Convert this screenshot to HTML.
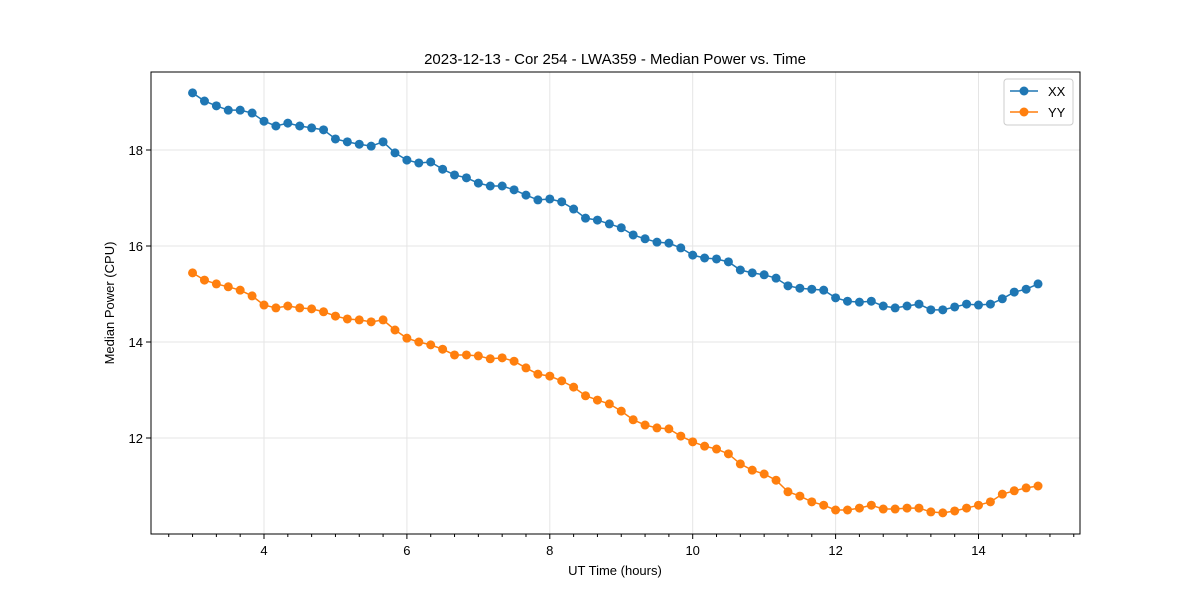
<!DOCTYPE html>
<html><head><meta charset="utf-8"><style>
html,body{margin:0;padding:0;background:#fff;}
svg text{font-family:"Liberation Sans","DejaVu Sans",sans-serif;fill:#000;}
</style></head><body>
<svg id="chart" width="1200" height="600" xmlns="http://www.w3.org/2000/svg">
<rect width="1200" height="600" fill="#fff"/>
<text x="615" y="64" font-size="15" text-anchor="middle">2023-12-13 - Cor 254 - LWA359 - Median Power vs. Time</text>
<g id="grid"></g>
<g id="axes"></g>
<g id="series"></g>
<rect x="151" y="72" width="929" height="462" fill="none" stroke="#000" stroke-width="1"/>
<text x="615" y="575" font-size="13" text-anchor="middle">UT Time (hours)</text>
<text transform="translate(114,303) rotate(-90)" font-size="13" text-anchor="middle">Median Power (CPU)</text>
<g>
<rect x="1004" y="79" width="69" height="46" rx="3" fill="#fff" stroke="#ccc"/>
<g><line x1="1010" y1="91" x2="1038" y2="91" stroke="#1f77b4" stroke-width="1.5"/><circle cx="1024" cy="91" r="4.5" fill="#1f77b4"/><text x="1048" y="96" font-size="13">XX</text></g>
<g><line x1="1010" y1="112" x2="1038" y2="112" stroke="#ff7f0e" stroke-width="1.5"/><circle cx="1024" cy="112" r="4.5" fill="#ff7f0e"/><text x="1048" y="117" font-size="13">YY</text></g>
</g>
</svg>
<script>
const xxValues=[19.19,19.02,18.92,18.83,18.83,18.77,18.60,18.50,18.56,18.50,
18.46,18.42,18.23,18.17,18.12,18.08,18.17,17.94,17.79,17.73,
17.75,17.60,17.48,17.42,17.31,17.25,17.25,17.17,17.06,16.96,
16.98,16.92,16.77,16.58,16.54,16.46,16.38,16.23,16.15,16.08,
16.06,15.96,15.81,15.75,15.73,15.67,15.50,15.44,15.40,15.33,
15.17,15.12,15.10,15.08,14.92,14.85,14.83,14.85,14.75,14.71,
14.75,14.79,14.67,14.67,14.73,14.79,14.77,14.79,14.90,15.04,15.10,15.21];
const yyValues=[15.44,15.29,15.21,15.15,15.08,14.96,14.77,14.71,14.75,14.71,
14.69,14.63,14.54,14.48,14.46,14.42,14.46,14.25,14.08,14.00,
13.94,13.85,13.73,13.73,13.71,13.65,13.67,13.60,13.46,13.33,
13.29,13.19,13.06,12.88,12.79,12.71,12.56,12.38,12.27,12.21,
12.19,12.04,11.92,11.83,11.77,11.67,11.46,11.33,11.25,11.12,
10.88,10.79,10.67,10.60,10.50,10.50,10.54,10.60,10.52,10.52,
10.54,10.54,10.46,10.44,10.48,10.54,10.60,10.67,10.83,10.90,10.96,11.00];
const startHour=3.0;
const stepHours=1/6;
const xTicks=[4,6,8,10,12,14];
const yTicks=[12,14,16,18];
const NS='http://www.w3.org/2000/svg';
function xs(v){return 264+(v-4)*71.45;}
function ys(v){return 150+(18-v)*48;}
function mk(tag,attrs,parent){const e=document.createElementNS(NS,tag);for(const k in attrs)e.setAttribute(k,attrs[k]);parent.appendChild(e);return e;}
const grid=document.getElementById('grid'),axes=document.getElementById('axes'),series=document.getElementById('series');
xTicks.forEach(t=>{
  const g=mk('line',{x1:xs(t),x2:xs(t),y1:72,y2:534,stroke:'#e5e5e5','stroke-width':1},grid);
  
  
  const tk=mk('line',{x1:xs(t),x2:xs(t),y1:534,y2:539,stroke:'#000'},axes);
  
  
  const l=mk('text',{x:xs(t),y:555,'font-size':13,'text-anchor':'middle'},axes);l.textContent=t;
  
  
});
for(let m=2+2/3;m<15.5;m+=1/3){
  if(Math.abs(m-Math.round(m))<0.01&&Math.round(m)%2===0)continue;
  const x=xs(m);if(x<152||x>1079)continue;
  const mt=mk('line',{x1:x,x2:x,y1:534,y2:537,stroke:'#000'},axes);
  
  
}
yTicks.forEach(t=>{
  const g=mk('line',{x1:151,x2:1080,y1:ys(t),y2:ys(t),stroke:'#e5e5e5','stroke-width':1},grid);
  
  
  const tk=mk('line',{x1:146,x2:151,y1:ys(t),y2:ys(t),stroke:'#000'},axes);
  
  
  const l=mk('text',{x:143,y:ys(t)+5,'font-size':13,'text-anchor':'end'},axes);l.textContent=t;
  
  
});
function drawSeries(vals,color,name){
  const pts=vals.map((v,i)=>[xs(startHour+i*stepHours),ys(v)]);
  const p=mk('polyline',{points:pts.map(p=>p.join(',')).join(' '),fill:'none',stroke:color,'stroke-width':1.5},series);
  
  
  pts.forEach(q=>{
    const c=mk('circle',{cx:q[0],cy:q[1],r:4.5,fill:color},series);
    
    
  });
}
drawSeries(xxValues,'#1f77b4','xx');
drawSeries(yyValues,'#ff7f0e','yy');
</script>
</body></html>
